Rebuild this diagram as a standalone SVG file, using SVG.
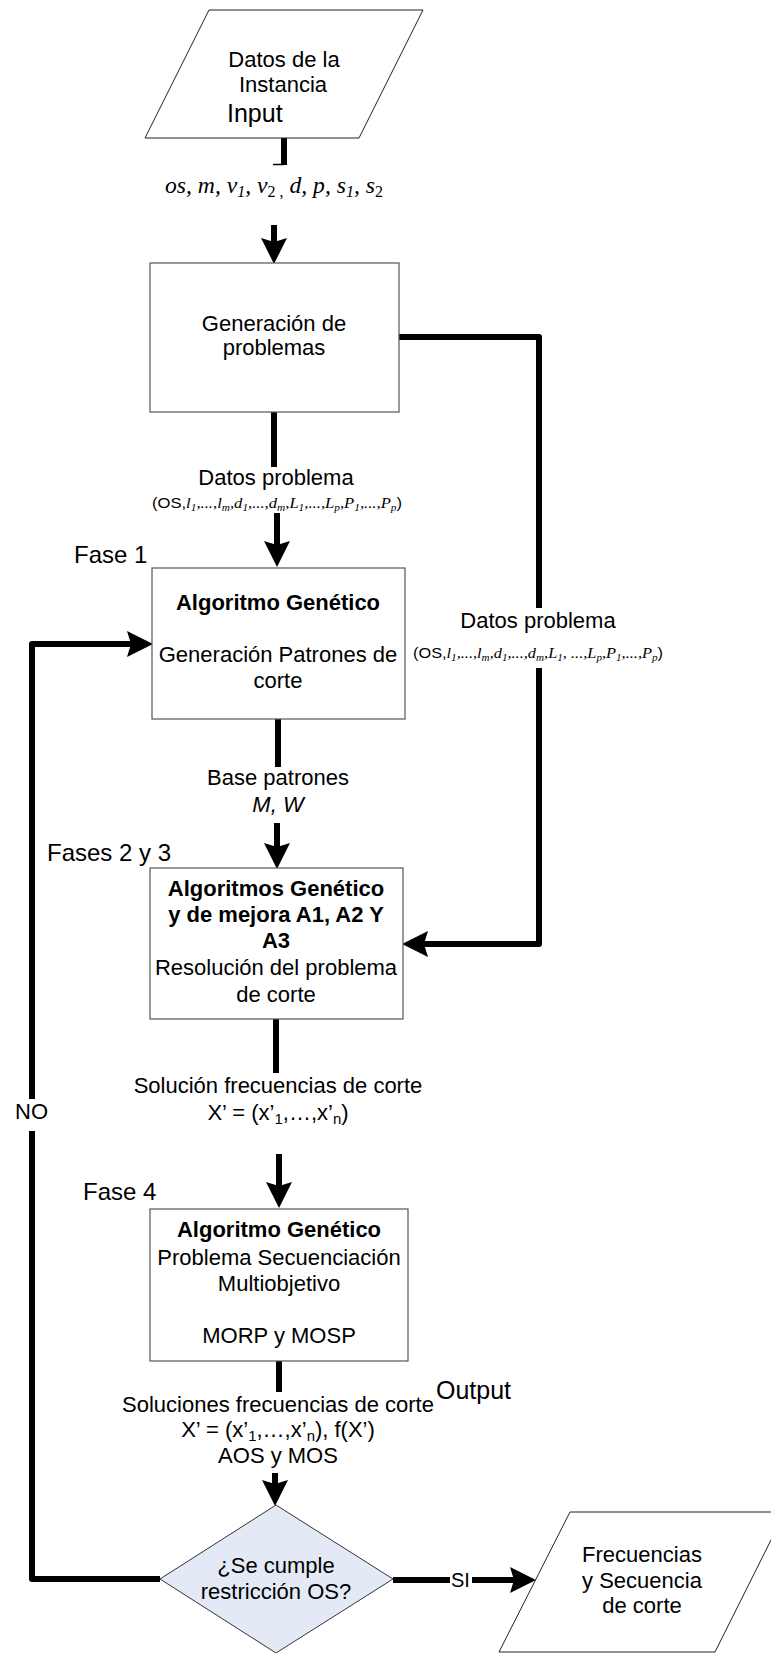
<svg xmlns="http://www.w3.org/2000/svg" width="771" height="1653" viewBox="0 0 771 1653">
  <style>
    .sans { font-family: "Liberation Sans", Arial, sans-serif; fill: #000; }
    .t { font-size: 22px; }
    .lbl { font-size: 24px; }
    .b { font-weight: bold; }
    .serif { font-family: "Liberation Serif", "Times New Roman", serif; font-style: italic; fill: #000; }
    .box { fill: #fff; stroke: #555; stroke-width: 1.2; }
    .io { fill: #fff; stroke: #222; stroke-width: 1; }
    .dec { fill: #e4eaf5; stroke: #333; stroke-width: 1; }
    .wire { fill: none; stroke: #000; stroke-width: 6; stroke-linejoin: round; }
    .sub { font-size: 0.68em; }
  </style>
  <defs>
    <marker id="head" markerUnits="userSpaceOnUse" markerWidth="26" markerHeight="26" viewBox="0 0 26 26" refX="4" refY="13" orient="auto">
      <path d="M0,0 L26,13 L0,26 L4,13 z" fill="#000"/>
    </marker>
  </defs>

  <!-- connectors -->
  <g id="connectors">
    <path class="wire" d="M284,138 V165"/>
    <path d="M273,164.5 H284" stroke="#000" stroke-width="1.5"/>
    <path class="wire" d="M274,225 V242" marker-end="url(#head)"/>
    <path class="wire" d="M274,412 V467"/>
    <path class="wire" d="M277,513 V545" marker-end="url(#head)"/>
    <path class="wire" d="M399,337 H539 V608"/>
    <path class="wire" d="M539,668 V944 H424" marker-end="url(#head)"/>
    <path class="wire" d="M278,719 V767"/>
    <path class="wire" d="M277,823 V847" marker-end="url(#head)"/>
    <path class="wire" d="M276,1019 V1073"/>
    <path class="wire" d="M279,1154 V1186" marker-end="url(#head)"/>
    <path class="wire" d="M279,1361 V1392"/>
    <path class="wire" d="M275,1473 V1484" marker-end="url(#head)"/>
    <path class="wire" d="M160,1579 H32 V1131"/>
    <path class="wire" d="M32,1099 V644 H131" marker-end="url(#head)"/>
    <path class="wire" d="M393,1580 H450"/>
    <path class="wire" d="M472,1580 H514" marker-end="url(#head)"/>
  </g>

  <!-- input data -->
  <g id="input">
    <polygon class="io" points="209,10 423,10 359,138 145,138"/>
    <text class="sans t" x="284" y="67" text-anchor="middle">Datos de la</text>
    <text class="sans t" x="283" y="92" text-anchor="middle">Instancia</text>
    <text class="sans" x="227" y="122" font-size="25">Input</text>
  </g>

  <g id="input-params">
    <text class="serif" x="165" y="193" font-size="24" textLength="218" lengthAdjust="spacingAndGlyphs">os, m, v<tspan class="sub" dy="4">1</tspan><tspan dy="-4">, v</tspan><tspan class="sub" dy="4" font-style="normal">2 ,</tspan><tspan dy="-4"> d, p, s</tspan><tspan class="sub" dy="4">1</tspan><tspan dy="-4">, s</tspan><tspan class="sub" dy="4" font-style="normal">2</tspan></text>
  </g>

  <!-- problem generation -->
  <g id="generacion">
    <rect class="box" x="150" y="263" width="249" height="149"/>
    <text class="sans t" x="274" y="331" text-anchor="middle">Generación de</text>
    <text class="sans t" x="274" y="355" text-anchor="middle">problemas</text>
  </g>

  <g id="datos-problema-1">
    <text class="sans t" x="276" y="485" text-anchor="middle">Datos problema</text>
    <text x="152" y="508" font-size="14" textLength="250" lengthAdjust="spacingAndGlyphs"><tspan class="sans">(OS,</tspan><tspan class="serif">l<tspan class="sub" dy="3">1</tspan><tspan dy="-3">,...,l</tspan><tspan class="sub" dy="3">m</tspan><tspan dy="-3">,d</tspan><tspan class="sub" dy="3">1</tspan><tspan dy="-3">,...,d</tspan><tspan class="sub" dy="3">m</tspan><tspan dy="-3">,L</tspan><tspan class="sub" dy="3">1</tspan><tspan dy="-3">,...,L</tspan><tspan class="sub" dy="3">p</tspan><tspan dy="-3">,P</tspan><tspan class="sub" dy="3">1</tspan><tspan dy="-3">,...,P</tspan><tspan class="sub" dy="3">p</tspan></tspan><tspan class="sans" dy="-3">)</tspan></text>
  </g>

  <g id="datos-problema-2">
    <text class="sans t" x="538" y="628" text-anchor="middle">Datos problema</text>
    <text x="413" y="658" font-size="14" textLength="250" lengthAdjust="spacingAndGlyphs"><tspan class="sans">(OS,</tspan><tspan class="serif">l<tspan class="sub" dy="3">1</tspan><tspan dy="-3">,...,l</tspan><tspan class="sub" dy="3">m</tspan><tspan dy="-3">,d</tspan><tspan class="sub" dy="3">1</tspan><tspan dy="-3">,...,d</tspan><tspan class="sub" dy="3">m</tspan><tspan dy="-3">,L</tspan><tspan class="sub" dy="3">1</tspan><tspan dy="-3">, ...,L</tspan><tspan class="sub" dy="3">p</tspan><tspan dy="-3">,P</tspan><tspan class="sub" dy="3">1</tspan><tspan dy="-3">,...,P</tspan><tspan class="sub" dy="3">p</tspan></tspan><tspan class="sans" dy="-3">)</tspan></text>
  </g>

  <!-- phase 1 -->
  <g id="fase1">
    <text class="sans lbl" x="74" y="563">Fase 1</text>
    <rect class="box" x="152" y="568" width="253" height="151"/>
    <text class="sans t b" x="278" y="610" text-anchor="middle">Algoritmo Genético</text>
    <text class="sans t" x="278" y="662" text-anchor="middle">Generación Patrones de</text>
    <text class="sans t" x="278" y="688" text-anchor="middle">corte</text>
  </g>

  <g id="base-patrones">
    <text class="sans t" x="278" y="785" text-anchor="middle">Base patrones</text>
    <text class="sans t" x="278" y="812" text-anchor="middle" font-style="italic">M, W</text>
  </g>

  <!-- phases 2 and 3 -->
  <g id="fases23">
    <text class="sans lbl" x="47" y="861">Fases 2 y 3</text>
    <rect class="box" x="150" y="868" width="253" height="151"/>
    <text class="sans t b" x="276" y="896" text-anchor="middle">Algoritmos Genético</text>
    <text class="sans t b" x="276" y="922" text-anchor="middle">y de mejora A1, A2 Y</text>
    <text class="sans t b" x="276" y="948" text-anchor="middle">A3</text>
    <text class="sans t" x="276" y="975" text-anchor="middle">Resolución del problema</text>
    <text class="sans t" x="276" y="1002" text-anchor="middle">de corte</text>
  </g>

  <g id="solucion">
    <text class="sans t" x="278" y="1093" text-anchor="middle">Solución frecuencias de corte</text>
    <text class="sans t" x="278" y="1120" text-anchor="middle">X’ = (x’<tspan class="sub" dy="4">1</tspan><tspan dy="-4">,…,x’</tspan><tspan class="sub" dy="4">n</tspan><tspan dy="-4">)</tspan></text>
  </g>

  <g id="no-label">
    <text class="sans t" x="15" y="1119">NO</text>
  </g>

  <!-- phase 4 -->
  <g id="fase4">
    <text class="sans lbl" x="83" y="1200">Fase 4</text>
    <rect class="box" x="150" y="1209" width="258" height="152"/>
    <text class="sans t b" x="279" y="1237" text-anchor="middle">Algoritmo Genético</text>
    <text class="sans t" x="279" y="1265" text-anchor="middle">Problema Secuenciación</text>
    <text class="sans t" x="279" y="1291" text-anchor="middle">Multiobjetivo</text>
    <text class="sans t" x="279" y="1343" text-anchor="middle">MORP y MOSP</text>
  </g>

  <g id="soluciones">
    <text class="sans t" x="278" y="1412" text-anchor="middle">Soluciones frecuencias de corte</text>
    <text class="sans t" x="278" y="1437" text-anchor="middle">X’ = (x’<tspan class="sub" dy="4">1</tspan><tspan dy="-4">,…,x’</tspan><tspan class="sub" dy="4">n</tspan><tspan dy="-4">), f(X’)</tspan></text>
    <text class="sans t" x="278" y="1463" text-anchor="middle">AOS y MOS</text>
  </g>

  <g id="output-label">
    <text class="sans" x="436" y="1399" font-size="25">Output</text>
  </g>

  <!-- decision -->
  <g id="decision">
    <polygon class="dec" points="276,1505 393,1579 276,1653 160,1579"/>
    <text class="sans t" x="276" y="1573" text-anchor="middle">¿Se cumple</text>
    <text class="sans t" x="276" y="1599" text-anchor="middle">restricción OS?</text>
  </g>

  <g id="si-label">
    <text class="sans" x="451" y="1587" font-size="20">SI</text>
  </g>

  <!-- output data -->
  <g id="output">
    <polygon class="io" points="570,1512 785,1512 715,1652 499,1652"/>
    <text class="sans t" x="642" y="1562" text-anchor="middle">Frecuencias</text>
    <text class="sans t" x="642" y="1588" text-anchor="middle">y Secuencia</text>
    <text class="sans t" x="642" y="1613" text-anchor="middle">de corte</text>
  </g>
</svg>
